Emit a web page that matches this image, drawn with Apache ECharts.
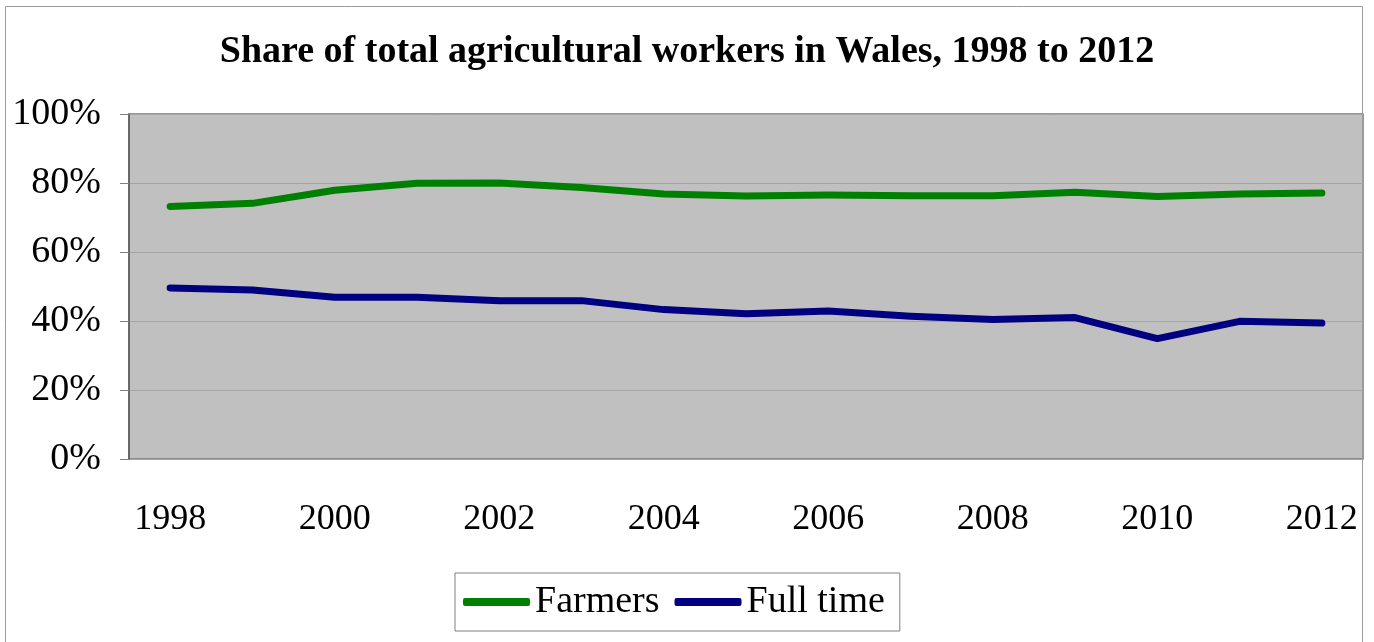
<!DOCTYPE html>
<html>
<head>
<meta charset="utf-8">
<style>
  html, body { margin: 0; padding: 0; background: #ffffff; }
  #chart { width: 1374px; height: 642px; }
</style>
<script src="https://cdn.jsdelivr.net/npm/echarts@6/dist/echarts.min.js"></script>
</head>
<body>
<div id="chart"></div>
<script>
// Years on the category axis
const years = ['1998', '1999', '2000', '2001', '2002', '2003', '2004', '2005',
               '2006', '2007', '2008', '2009', '2010', '2011', '2012'];

// Share of total agricultural workers (%)
const farmers  = [73.2, 74.1, 77.9, 79.9, 80.0, 78.7, 76.8, 76.2, 76.5, 76.3, 76.3, 77.3, 76.1, 76.8, 77.1];
const fullTime = [49.6, 49.0, 46.9, 46.9, 45.9, 45.9, 43.3, 42.1, 42.9, 41.4, 40.4, 41.0, 34.9, 39.9, 39.4];

// Only every second year is labelled
const shownYears = ['1998', '2000', '2002', '2004', '2006', '2008', '2010', '2012'];

const serif = "'Liberation Serif', 'Times New Roman', serif";

const chart = echarts.init(document.getElementById('chart'), null, { renderer: 'canvas' });

chart.setOption({
  animation: false,
  backgroundColor: '#ffffff',
  textStyle: { fontFamily: serif, color: '#000000' },
  title: {
    text: 'Share of total agricultural workers in Wales, 1998 to 2012',
    left: 'center',
    top: 28,
    textStyle: { fontFamily: serif, fontWeight: 'bold', fontSize: 38, color: '#000000' }
  },
  graphic: [
    {
      type: 'rect',
      shape: { x: 5.5, y: 6.5, width: 1357, height: 700 },
      style: { fill: 'none', stroke: '#9a9a9a', lineWidth: 1 },
      silent: true,
      z: 0
    }
  ],
  grid: {
    left: 129,
    top: 114,
    width: 1234,
    height: 345,
    show: true,
    backgroundColor: '#c0c0c0',
    borderColor: '#7a7a7a',
    borderWidth: 1.5,
    containLabel: false
  },
  legend: {
    left: 455,
    top: 573,
    padding: [10, 15, 10, 8],
    borderColor: '#808080',
    borderWidth: 1,
    itemWidth: 67,
    itemHeight: 8,
    itemGap: 15,
    icon: 'roundRect',
    textStyle: { fontFamily: serif, fontSize: 38, color: '#000000' },
    data: ['Farmers', 'Full time']
  },
  xAxis: {
    type: 'category',
    data: years,
    boundaryGap: true,
    axisLine: { show: false },
    axisTick: { show: false },
    splitLine: { show: false },
    axisLabel: {
      interval: 0,
      margin: 43,
      fontFamily: serif,
      fontSize: 36,
      color: '#000000',
      formatter: (v) => (shownYears.includes(v) ? v : '')
    }
  },
  yAxis: {
    type: 'value',
    min: 0,
    max: 100,
    interval: 20,
    axisLine: { show: true, lineStyle: { color: '#5a5a5a', width: 1.5 } },
    axisTick: { show: true, length: 9, lineStyle: { color: '#808080', width: 1 } },
    splitLine: { show: true, lineStyle: { color: '#a4a4a4', width: 1 } },
    axisLabel: {
      margin: 28,
      fontFamily: serif,
      fontSize: 38,
      color: '#000000',
      formatter: '{value}%'
    }
  },
  series: [
    {
      name: 'Farmers',
      type: 'line',
      data: farmers,
      showSymbol: false,
      symbol: 'none',
      lineStyle: { color: '#008000', width: 7, cap: 'round', join: 'round' },
      itemStyle: { color: '#008000' }
    },
    {
      name: 'Full time',
      type: 'line',
      data: fullTime,
      showSymbol: false,
      symbol: 'none',
      lineStyle: { color: '#000080', width: 7, cap: 'round', join: 'round' },
      itemStyle: { color: '#000080' }
    }
  ]
});
</script>
</body>
</html>
